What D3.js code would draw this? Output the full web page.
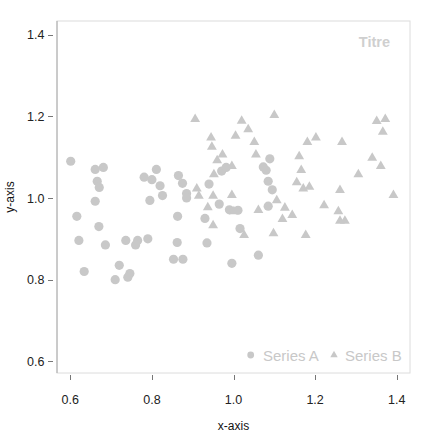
<!DOCTYPE html>
<html lang="en">
<head>
<meta charset="UTF-8">
<title>Titre</title>
<script src="https://d3js.org/d3.v7.min.js"></script>
<style>
    body { margin: 0; background: #fff; }
    svg { font-family: "Liberation Sans", Arial, sans-serif; }
    .tick-label { font-size: 12.5px; fill: #222; }
    .axis-title { font-size: 12px; fill: #111; }
    .legend-text { font-size: 15px; fill: #c8c8c8; }
</style>
</head>
<body>
<svg width="432" height="432"></svg>
<script>
    // Series A (circles)
    var seriesAx = [0.601, 0.661, 0.681, 0.666, 0.671, 0.661, 0.781, 0.800, 0.811, 0.820,
                    0.826, 0.795, 0.865, 0.875, 0.885, 0.885, 0.616, 0.670, 0.621, 0.686,
                    0.736, 0.765, 0.760, 0.790, 0.862, 0.853, 0.876, 0.634, 0.720, 0.746,
                    0.741, 0.710, 0.863, 0.930, 0.965, 0.990, 1.011, 1.016, 1.061, 0.996,
                    0.935, 0.940, 0.971, 0.982, 1.089, 1.073, 1.080, 1.085, 1.095, 1.085];
    var seriesAy = [1.090, 1.070, 1.075, 1.041, 1.026, 0.992, 1.051, 1.045, 1.070, 1.030,
                    1.006, 0.994, 1.055, 1.036, 1.011, 1.000, 0.955, 0.930, 0.896, 0.885,
                    0.896, 0.896, 0.885, 0.900, 0.891, 0.850, 0.850, 0.820, 0.835, 0.815,
                    0.806, 0.800, 0.955, 0.950, 0.985, 0.971, 0.970, 0.925, 0.860, 0.840,
                    0.890, 1.034, 1.066, 1.075, 1.096, 1.076, 1.068, 1.041, 1.020, 0.980];

    // Series B (triangles)
    var seriesBx = [0.906, 1.020, 1.100, 0.945, 1.036, 1.005, 0.947, 1.051, 0.973, 1.055,
                    0.960, 0.996, 0.952, 0.910, 0.915, 0.950, 0.996, 0.937, 1.001, 0.950,
                    1.026, 1.061, 1.098, 1.106, 1.126, 1.120, 1.144, 1.351, 1.372, 1.366,
                    1.181, 1.202, 1.266, 1.161, 1.340, 1.361, 1.166, 1.306, 1.155, 1.171,
                    1.186, 1.261, 1.392, 1.222, 1.257, 1.261, 1.273, 1.177];
    var seriesBy = [1.193, 1.189, 1.203, 1.148, 1.168, 1.152, 1.125, 1.137, 1.106, 1.106,
                    1.092, 1.078, 1.058, 1.023, 1.005, 1.005, 1.007, 0.977, 0.967, 0.933,
                    0.909, 0.970, 0.913, 0.994, 0.976, 0.948, 0.958, 1.188, 1.193, 1.162,
                    1.137, 1.148, 1.137, 1.102, 1.098, 1.078, 1.068, 1.058, 1.038, 1.023,
                    1.027, 1.019, 1.007, 0.982, 0.967, 0.944, 0.944, 0.909];

    var xTicks = [0.6, 0.8, 1.0, 1.2, 1.4];
    var yTicks = [0.6, 0.8, 1.0, 1.2, 1.4];
    var seriesNames = ["Series A", "Series B"];
    var titleText = "Titre";

    // panel box
    var box = {left: 57, right: 410, top: 21, bottom: 373};
    var markColor = "#c8c8c8";

    var svg = d3.select("svg");

    var x = d3.scaleLinear().domain([0.6, 1.4]).range([70.3, 396.7]);
    var y = d3.scaleLinear().domain([0.6, 1.4]).range([361.3, 34.7]);

    // panel frame
    svg.append("rect")
        .attr("x", box.left).attr("y", box.top)
        .attr("width", box.right - box.left)
        .attr("height", box.bottom - box.top)
        .attr("fill", "none")
        .attr("stroke", "#dcdcdc")
        .attr("stroke-width", 1);
    svg.append("line")
        .attr("x1", box.left).attr("x2", box.left)
        .attr("y1", box.top).attr("y2", box.bottom)
        .attr("stroke", "#a8a8a8");

    // x axis ticks (detached below the box)
    var xAxis = svg.append("g");
    xAxis.selectAll("line").data(xTicks).enter().append("line")
        .attr("x1", function(d) { return Math.round(x(d)) + 0.5; })
        .attr("x2", function(d) { return Math.round(x(d)) + 0.5; })
        .attr("y1", box.bottom + 2).attr("y2", box.bottom + 7)
        .attr("stroke", "#777");
    xAxis.selectAll("text").data(xTicks).enter().append("text")
        .attr("class", "tick-label")
        .attr("x", function(d) { return x(d); })
        .attr("y", 403.5)
        .attr("text-anchor", "middle")
        .text(function(d) { return d3.format(".1f")(d); });

    // y axis ticks (detached left of the box)
    var yAxis = svg.append("g");
    yAxis.selectAll("line").data(yTicks).enter().append("line")
        .attr("x1", box.left - 9).attr("x2", box.left - 4)
        .attr("y1", function(d) { return Math.round(y(d)) + 0.5; })
        .attr("y2", function(d) { return Math.round(y(d)) + 0.5; })
        .attr("stroke", "#777");
    yAxis.selectAll("text").data(yTicks).enter().append("text")
        .attr("class", "tick-label")
        .attr("x", 44.5)
        .attr("y", function(d) { return y(d); })
        .attr("dy", "0.36em")
        .attr("text-anchor", "end")
        .text(function(d) { return d3.format(".1f")(d); });

    // axis titles
    svg.append("text")
        .attr("class", "axis-title")
        .attr("x", (box.left + box.right) / 2)
        .attr("y", 430)
        .attr("text-anchor", "middle")
        .text("x-axis");
    svg.append("text")
        .attr("class", "axis-title")
        .attr("transform", "translate(14," + ((box.top + box.bottom) / 2) + ") rotate(-90)")
        .attr("text-anchor", "middle")
        .text("y-axis");

    // points
    var dataA = seriesAx.map(function(v, i) { return {x: v, y: seriesAy[i]}; });
    var dataB = seriesBx.map(function(v, i) { return {x: v, y: seriesBy[i]}; });

    svg.append("g").selectAll("circle").data(dataA).enter().append("circle")
        .attr("cx", function(d) { return x(d.x); })
        .attr("cy", function(d) { return y(d.y); })
        .attr("r", 4.6)
        .attr("fill", markColor);

    var tri = d3.symbol().type(d3.symbolTriangle).size(42);
    svg.append("g").selectAll("path").data(dataB).enter().append("path")
        .attr("d", tri)
        .attr("transform", function(d) { return "translate(" + x(d.x) + "," + y(d.y) + ")"; })
        .attr("fill", markColor);

    // title
    svg.append("text")
        .attr("x", 390)
        .attr("y", 47)
        .attr("text-anchor", "end")
        .attr("font-size", "14.5px")
        .attr("font-weight", "bold")
        .attr("fill", "#cfcfcf")
        .text(titleText);

    // legend
    var legend = svg.append("g");
    legend.append("circle")
        .attr("cx", 250.7).attr("cy", 355).attr("r", 3.4)
        .attr("fill", markColor);
    legend.append("text")
        .attr("class", "legend-text")
        .attr("x", 263).attr("y", 360.5)
        .text(seriesNames[0]);
    legend.append("path")
        .attr("d", d3.symbol().type(d3.symbolTriangle).size(24))
        .attr("transform", "translate(334,355)")
        .attr("fill", markColor);
    legend.append("text")
        .attr("class", "legend-text")
        .attr("x", 345).attr("y", 360.5)
        .text(seriesNames[1]);
</script>
</body>
</html>
